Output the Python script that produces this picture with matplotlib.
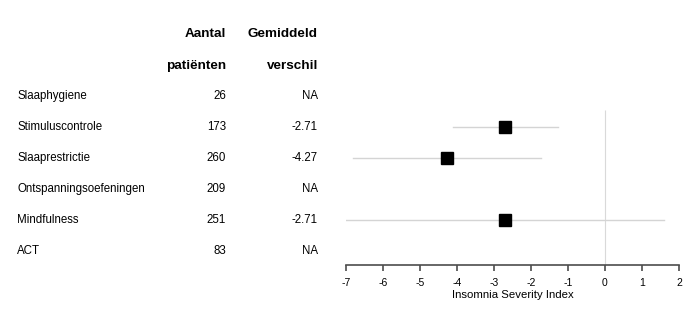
import matplotlib.pyplot as plt
import matplotlib.transforms as mtransforms
import numpy as np

plt.rcParams['font.family'] = ['Liberation Sans', 'DejaVu Sans']

interventions = ['Slaaphygiene', 'Stimuluscontrole', 'Slaaprestrictie',
                 'Ontspanningsoefeningen', 'Mindfulness', 'ACT']
n_patients = [26, 173, 260, 209, 251, 83]
mean_diff = [np.nan, -2.71, -4.27, np.nan, -2.71, np.nan]
ci_low = [np.nan, -4.12, -6.80, np.nan, -7.00, np.nan]
ci_high = [np.nan, -1.28, -1.73, np.nan, 1.60, np.nan]
xticks = [-7, -6, -5, -4, -3, -2, -1, 0, 1, 2]

W, H = 697, 326
fig = plt.figure(figsize=(W / 100, H / 100), dpi=100)
# axes in pixel terms: x from 346 to 679, y from 20 (top) to 265 (axis line)
ax = fig.add_axes([346 / W, (H - 265) / H, (679 - 346) / W, (265 - 20) / H])
ax.set_xlim(-7, 2)
ax.set_ylim(5.45, -2.45)

rows = np.arange(len(interventions))
ax.vlines(0, 0.45, 5.45, color='#d9d9d9', lw=0.8)
for i in rows:
    if np.isnan(mean_diff[i]):
        continue
    ax.plot([ci_low[i], ci_high[i]], [i, i], color='#d4d4d4', lw=1.0, zorder=2)
    ax.plot(mean_diff[i], i, marker='s', ms=9, color='black', zorder=3)

for s in ['top', 'right', 'left']:
    ax.spines[s].set_visible(False)
ax.spines['bottom'].set_color('#4d4d4d')
ax.spines['bottom'].set_linewidth(1.2)
ax.set_yticks([])
ax.set_xticks(xticks)
ax.set_xticklabels([str(t) for t in xticks], fontsize=7.5)
ax.tick_params(axis='x', length=4, width=1.2, color='#4d4d4d', pad=5)
ax.set_xlabel('Insomnia Severity Index', fontsize=8.2, labelpad=1.5)

trans = mtransforms.blended_transform_factory(fig.transFigure, ax.transData)
x_lab, x_n, x_m = 17 / W, 226 / W, 318 / W
fs = 8.3
hfs = 9.7
ax.text(x_n, -2, 'Aantal', transform=trans, ha='right', va='center',
        fontsize=hfs, fontweight='bold')
ax.text(x_n, -0.97, 'patiënten', transform=trans, ha='right', va='center',
        fontsize=hfs, fontweight='bold')
ax.text(x_m, -2, 'Gemiddeld', transform=trans, ha='right', va='center',
        fontsize=hfs, fontweight='bold')
ax.text(x_m, -0.97, 'verschil', transform=trans, ha='right', va='center',
        fontsize=hfs, fontweight='bold')
for i in rows:
    ax.text(x_lab, i, interventions[i], transform=trans, ha='left', va='center',
            fontsize=fs)
    ax.text(x_n, i, str(n_patients[i]), transform=trans, ha='right',
            va='center', fontsize=fs)
    m = 'NA' if np.isnan(mean_diff[i]) else f'{mean_diff[i]:.2f}'
    ax.text(x_m, i, m, transform=trans, ha='right', va='center', fontsize=fs)

fig.savefig('out.png', dpi=100)
